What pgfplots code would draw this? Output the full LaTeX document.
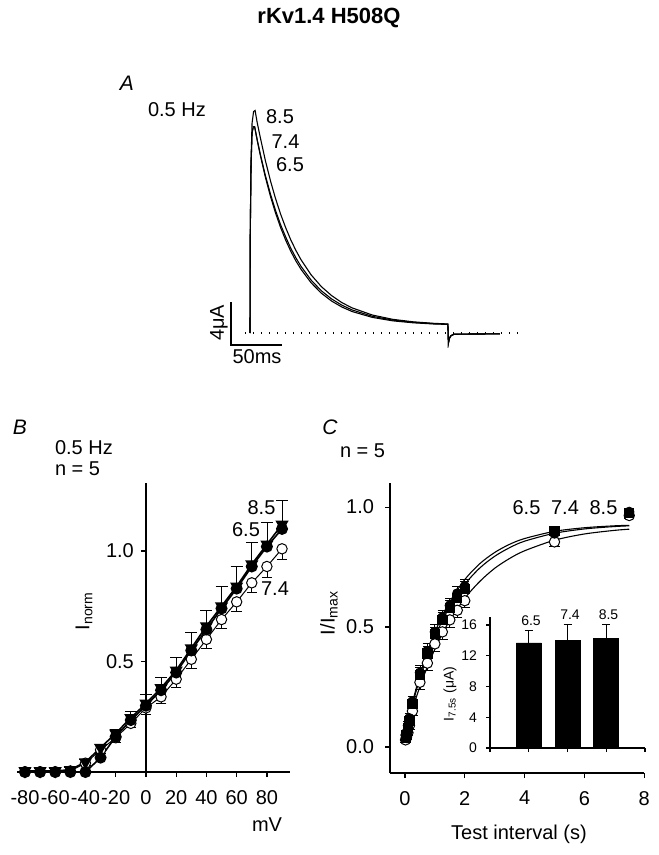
\documentclass[border=0pt]{standalone}
\usepackage{fontspec}
\setmainfont{Liberation Sans}
\usepackage{pgfplots}
\pgfplotsset{compat=1.18}
\newcommand\fs[1]{\fontsize{#1}{#1}\selectfont}

\pgfplotsset{
  every axis/.append style={
    scale only axis, clip=false, tick align=outside,
    major tick length=2.5pt,
    axis line style={-, line width=0.6pt},
    every tick/.style={black, line width=0.6pt},
    tick label style={font=\fs{10}},
    /pgf/number format/assume math mode=true,
  },
  trace/.style={black, line width=0.55pt},
}

\begin{document}
\begin{tikzpicture}
\useasboundingbox (0,0) rectangle (329pt,-427.5pt);

% ---------- A: current traces ----------
\begin{axis}[at={(112.25pt,-177.25pt)}, anchor=south west, width=153pt, height=129pt,
  xmin=-25, xmax=275, ymin=-2, ymax=22, hide axis]
\addplot[black, line width=0.6pt, dash pattern=on 0.6pt off 3.4pt] coordinates {(-5,0) (267,0)};
% 8.5
\addplot[trace] coordinates {(0,0) (0.3,10) (1,16) (2,19.5) (3.5,20.6) (5,20.7) (7,19.6) (10,18.23) (15,16.07) (20,14.18) (25,12.52) (30,11.06) (35,9.79) (40,8.66) (45,7.68) (50,6.82) (60,5.40) (70,4.31) (80,3.48) (90,2.83) (100,2.34) (120,1.67) (140,1.27) (160,1.04) (180,0.90) (194,0.84) (194.5,-0.95) (195.5,-0.5) (197,-0.25) (200,-0.12) (210,-0.1) (245,-0.08)};
% 7.4
\addplot[trace] coordinates {(0,0) (0.3,9.5) (1,15.5) (2,18.6) (3.3,19.2) (4.5,19.2) (7,18.0) (10,16.68) (15,14.68) (20,12.94) (25,11.41) (30,10.07) (35,8.93) (40,7.88) (45,6.99) (50,6.20) (60,4.91) (70,3.92) (80,3.17) (90,2.59) (100,2.15) (120,1.55) (140,1.20) (160,0.99) (180,0.87) (194,0.82) (194.5,-0.95) (195.5,-0.5) (197,-0.25) (200,-0.12) (210,-0.1) (245,-0.08)};
% 6.5
\addplot[trace] coordinates {(0,0) (0.3,9.5) (1,15.5) (2,18.6) (3.3,19.2) (4.5,19.2) (7,17.96) (10,16.58) (15,14.52) (20,12.73) (25,11.17) (30,9.81) (35,8.63) (40,7.60) (45,6.70) (50,5.93) (60,4.66) (70,3.70) (80,2.97) (90,2.42) (100,2.00) (120,1.45) (140,1.13) (160,0.95) (180,0.84) (194,0.80) (194.5,-0.95) (195.5,-0.5) (197,-0.25) (200,-0.12) (210,-0.1) (245,-0.08)};
% scale bar
\draw[black, line width=0.7pt] (axis cs:-18.6,2.88) -- (axis cs:-18.6,-1.12) -- (axis cs:31.4,-1.12);
\end{axis}

% ---------- B: I-V ----------
\begin{axis}[at={(8.7pt,-386pt)}, anchor=south west, width=136.1pt, height=144.75pt,
  xmin=-85, xmax=95, ymin=0, ymax=1.31,
  axis x line*=bottom, axis y line*=middle,
  hide obscured x ticks=false, hide obscured y ticks=false,
  xtick={-80,-60,...,80}, xticklabels={-80,-60,-40,-20,0,20,40,60,80},
  ytick={0.5,1.0}, yticklabels={0.5,1.0},
  xticklabel style={yshift=-3pt},
]
% 7.4
\addplot[black, line width=0.5pt, mark=*, mark size=2.6pt, mark options={fill=white},
  error bars/.cd, y dir=minus, y explicit] coordinates {
(-80,0) +- (0,0.005) (-70,0) +- (0,0.005) (-60,0) +- (0,0.005) (-50,0.005) +- (0,0.005) (-40,0.04) +- (0,0.01) (-30,0.10) +- (0,0.015) (-20,0.155) +- (0,0.02) (-10,0.22) +- (0,0.02) (0,0.29) +- (0,0.03) (10,0.34) +- (0,0.03) (20,0.42) +- (0,0.035) (30,0.51) +- (0,0.04) (40,0.60) +- (0,0.04) (50,0.69) +- (0,0.04) (60,0.77) +- (0,0.045) (70,0.856) +- (0,0.045) (80,0.93) +- (0,0.05) (90,1.01) +- (0,0.05)};
% 6.5
\addplot[black, line width=0.8pt, mark=*, mark size=2.6pt] coordinates {
(-80,0) (-70,0) (-60,0) (-50,0) (-40,0) (-30,0.065) (-20,0.16) (-10,0.235) (0,0.30) (10,0.37) (20,0.45) (30,0.55) (40,0.645) (50,0.74) (60,0.83) (70,0.93) (80,1.02) (90,1.10)};
% 8.5
\addplot[black, line width=0.8pt, mark=triangle*, mark size=3pt, mark options={rotate=180},
  error bars/.cd, y dir=plus, y explicit] coordinates {
(-80,0.005) +- (0,0.01) (-70,0.005) +- (0,0.01) (-60,0.005) +- (0,0.01) (-50,0.01) +- (0,0.01) (-40,0.045) +- (0,0.01) (-30,0.11) +- (0,0.015) (-20,0.175) +- (0,0.02) (-10,0.245) +- (0,0.03) (0,0.31) +- (0,0.04) (10,0.38) +- (0,0.05) (20,0.46) +- (0,0.06) (30,0.56) +- (0,0.07) (40,0.66) +- (0,0.07) (50,0.75) +- (0,0.09) (60,0.84) +- (0,0.09) (70,0.94) +- (0,0.10) (80,1.03) +- (0,0.10) (90,1.12) +- (0,0.11)};
\end{axis}

% ---------- C: recovery ----------
\begin{axis}[at={(195pt,-386.5pt)}, anchor=south west, width=127.1pt, height=144.95pt,
  xmin=-0.5, xmax=8, ymin=-0.108, ymax=1.1, axis lines*=left,
  xtick={0,2,...,8}, ytick={0,0.5,1}, yticklabels={0.0,0.5,1.0},
  xticklabel style={yshift=-3pt}, yticklabel style={xshift=-2pt},
]
% fitted curves
\addplot[black, line width=0.55pt, smooth] coordinates {(0,0.05) (0.25,0.185) (0.5,0.30) (0.75,0.396) (1,0.478) (1.25,0.548) (1.5,0.606) (2,0.698) (2.5,0.764) (3,0.811) (3.5,0.845) (4,0.869) (5,0.899) (6,0.914) (7,0.922) (7.5,0.924)};
\addplot[black, line width=0.55pt, smooth] coordinates {(0,0.05) (0.25,0.177) (0.5,0.286) (0.75,0.379) (1,0.459) (1.25,0.527) (1.5,0.585) (2,0.678) (2.5,0.746) (3,0.795) (3.5,0.831) (4,0.858) (5,0.891) (6,0.909) (7,0.919) (7.5,0.922)};
\addplot[black, line width=0.55pt, smooth] coordinates {(0,0.05) (0.25,0.158) (0.5,0.252) (0.75,0.335) (1,0.408) (1.25,0.472) (1.5,0.528) (2,0.620) (2.5,0.690) (3,0.745) (3.5,0.786) (4,0.818) (5,0.862) (6,0.888) (7,0.903) (7.5,0.908)};
% 7.4 open circles
\addplot[only marks, black, mark=*, mark size=2.6pt, mark options={fill=white, line width=0.5pt},
  error bars/.cd, y dir=minus, y explicit] coordinates {
(0.02,0.03) +- (0,0.01) (0.05,0.04) +- (0,0.01) (0.1,0.06) +- (0,0.01) (0.15,0.09) +- (0,0.015) (0.25,0.15) +- (0,0.02) (0.5,0.27) +- (0,0.03) (0.75,0.35) +- (0,0.03) (1,0.43) +- (0,0.03) (1.25,0.48) +- (0,0.03) (1.5,0.53) +- (0,0.03) (1.75,0.57) +- (0,0.03) (2,0.61) +- (0,0.03) (5,0.855) +- (0,0.02) (7.5,0.965) +- (0,0.01)};
% 6.5 filled squares
\addplot[only marks, black, mark=square*, mark size=2.3pt,
  error bars/.cd, y dir=plus, y explicit] coordinates {
(0.02,0.04) +- (0,0.01) (0.05,0.05) +- (0,0.01) (0.1,0.08) +- (0,0.015) (0.15,0.11) +- (0,0.02) (0.25,0.18) +- (0,0.02) (0.5,0.30) +- (0,0.03) (0.75,0.39) +- (0,0.03) (1,0.47) +- (0,0.03) (1.25,0.53) +- (0,0.03) (1.5,0.58) +- (0,0.03) (1.75,0.62) +- (0,0.03) (2,0.66) +- (0,0.03) (5,0.90) +- (0,0.02) (7.5,0.975) +- (0,0.01)};
% 8.5 filled circles
\addplot[only marks, black, mark=*, mark size=2.4pt,
  error bars/.cd, y dir=plus, y explicit] coordinates {
(0.02,0.05) +- (0,0.01) (0.05,0.06) +- (0,0.01) (0.1,0.09) +- (0,0.015) (0.15,0.12) +- (0,0.02) (0.25,0.19) +- (0,0.02) (0.5,0.31) +- (0,0.03) (0.75,0.40) +- (0,0.03) (1,0.48) +- (0,0.03) (1.25,0.54) +- (0,0.03) (1.5,0.59) +- (0,0.03) (1.75,0.64) +- (0,0.03) (2,0.67) +- (0,0.03) (5,0.89) +- (0,0.02) (7.5,0.98) +- (0,0.01)};
\end{axis}

% ---------- C inset: bars ----------
\begin{axis}[at={(245pt,-374pt)}, anchor=south west, width=77.5pt, height=65.4pt,
  xmin=0, xmax=4, ymin=0, ymax=17, axis lines*=left,
  xtick={0,...,4}, xticklabels={}, ytick={0,4,...,16},
  major tick length=2pt,
  tick label style={font=\fs{7}}, yticklabel style={xshift=-1pt},
  ybar, bar width=12.5pt,
]
\addplot[fill=black, draw=black, error bars/.cd, y dir=plus, y explicit,
  error bar style={line width=0.6pt}] coordinates {(1,13.65) +- (0,1.65) (2,13.95) +- (0,2.15) (3,14.2) +- (0,1.9)};
\end{axis}

% ---------- text ----------
\begin{scope}[x=0.5pt, y=-0.5pt]
\node[font=\fs{11}\bfseries] at (329,18) {rKv1.4 H508Q};
% A
\node[font=\fs{10.5}\itshape] at (127,83) {A};
\node[font=\fs{10}, anchor=west] at (141,110) {0.5 Hz};
\node[font=\fs{10}] at (280,117) {8.5};
\node[font=\fs{10}] at (285.5,142) {7.4};
\node[font=\fs{10}] at (290,165) {6.5};
\node[font=\fs{10}, rotate=90] at (219,323) {4μA};
\node[font=\fs{10}] at (257,357) {50ms};
% B
\node[font=\fs{10.5}\itshape] at (20,427) {B};
\node[font=\fs{10}, anchor=west] at (48,448) {0.5 Hz};
\node[font=\fs{10}, anchor=west] at (48,469) {n = 5};
\node[font=\fs{10}] at (261.5,508) {8.5};
\node[font=\fs{10}] at (246,530) {6.5};
\node[font=\fs{10}] at (275,589) {7.4};
\node[font=\fs{10}, rotate=90] at (84,611) {I\textsubscript{norm}};
\node[font=\fs{10}] at (267,825) {mV};
% C
\node[font=\fs{10.5}\itshape] at (330,427) {C};
\node[font=\fs{10}, anchor=west] at (333,451) {n = 5};
\node[font=\fs{10}] at (526.5,508) {6.5};
\node[font=\fs{10}] at (565,508) {7.4};
\node[font=\fs{10}] at (603.5,508) {8.5};
\node[font=\fs{10}, rotate=90] at (329,613) {I/I\textsubscript{max}};
\node[font=\fs{10}] at (519,834) {Test interval (s)};
\node[font=\fs{7}] at (531,620.5) {6.5};
\node[font=\fs{7}] at (570,614.5) {7.4};
\node[font=\fs{7}] at (608.5,614.5) {8.5};
\node[font=\fs{7}, rotate=90] at (450,694) {I\textsubscript{7.5s} (μA)};
\end{scope}
\end{tikzpicture}
\end{document}
